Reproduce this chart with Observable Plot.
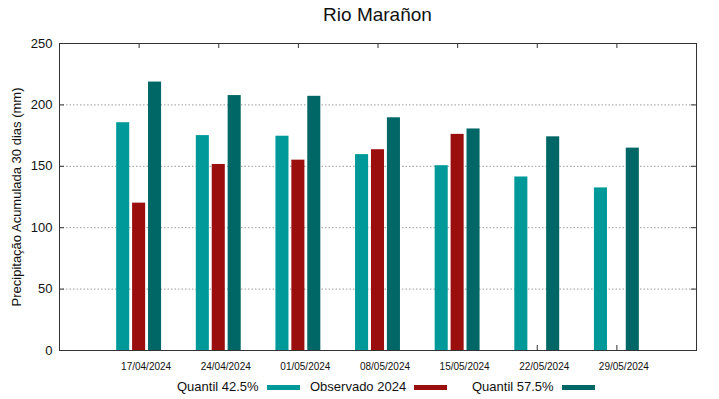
<!DOCTYPE html>
<html>
<head>
<meta charset="utf-8">
<script src="https://cdn.jsdelivr.net/npm/d3@7"></script>
<script src="https://cdn.jsdelivr.net/npm/@observablehq/plot@0.6"></script>
<style>
  body { margin: 0; background: #fff; font-family: "Liberation Sans", Arial, sans-serif; }
  #title { width: 719px; box-sizing: border-box; padding-left: 59px; padding-right: 23px; height: 30px; line-height: 30px; text-align: center; font-size: 19px; color: #111; }
  #legend { position: relative; width: 719px; height: 24px; font-size: 13px; color: #111; }
  .item { position: absolute; top: 0; height: 24px; line-height: 24px; white-space: nowrap; display: flex; align-items: center; }
  .sw { display: inline-block; width: 33px; height: 5px; margin-left: 8px; }
</style>
</head>
<body>
<div id="title">Rio Marañon</div>
<div id="chart"></div>
<div id="legend"></div>
<script>
// ---- data ----
const dates = ["17/04/2024", "24/04/2024", "01/05/2024", "08/05/2024", "15/05/2024", "22/05/2024", "29/05/2024"];
const seriesNames = ["Quantil 42.5%", "Observado 2024", "Quantil 57.5%"];
const q425 = [185.5, 175, 174.5, 159.5, 150.5, 141.3, 132.4];
const obs2024 = [120, 151.5, 155, 163.5, 176, null, null];
const q575 = [218.6, 207.6, 207, 189.5, 180.4, 174, 164.8];
const colors = ["#009999", "#9a0e0e", "#006666"];
const yTicks = [0, 50, 100, 150, 200, 250];
const gridTicks = [50, 100, 150, 200];
const yLabel = "Precipitação Acumulada 30 dias (mm)";

// ---- build rows ----
const series = [q425, obs2024, q575];
const rows = [];
dates.forEach((d, i) => {
  series.forEach((arr, s) => {
    if (arr[i] != null) rows.push({i, s, name: seriesNames[s], v: arr[i]});
  });
});
const idx = dates.map((d, i) => i);
const step = 0.2, half = 0.082;
const xMin = -1, xMax = 7, yMin = 0, yMax = 250;

const chart = Plot.plot({
  width: 719,
  height: 345,
  marginTop: 13,
  marginBottom: 25,
  marginLeft: 59,
  marginRight: 23,
  style: {fontFamily: "'Liberation Sans', Arial, sans-serif", fontSize: "13px", color: "#111"},
  x: {type: "linear", domain: [xMin, xMax], axis: null},
  y: {domain: [yMin, yMax], axis: null},
  color: {domain: seriesNames, range: colors},
  marks: [
    Plot.ruleY(gridTicks, {stroke: "#999", strokeDasharray: "1.5,2"}),
    // inward tick marks on all four sides
    Plot.ruleX(idx, {x: d => d, y1: yMin, y2: yMin, insetBottom: 5, stroke: "#333"}),
    Plot.ruleX(idx, {x: d => d, y1: yMax, y2: yMax, insetTop: 5, stroke: "#333"}),
    Plot.ruleY(yTicks, {y: d => d, x1: xMin, x2: xMin, insetRight: -5, stroke: "#333"}),
    Plot.ruleY(yTicks, {y: d => d, x1: xMax, x2: xMax, insetLeft: -5, stroke: "#333"}),
    Plot.rectY(rows, {
      x1: d => d.i + (d.s - 1) * step - half,
      x2: d => d.i + (d.s - 1) * step + half,
      y1: 0,
      y2: "v",
      fill: "name"
    }),
    Plot.frame({stroke: "#333"}),
    Plot.axisY(yTicks, {anchor: "left", tickSize: 0, tickPadding: 7, label: null, fontSize: 13}),
    Plot.axisX(idx, {anchor: "bottom", tickSize: 0, tickPadding: 12, dx: 7, label: null, fontSize: 10, tickFormat: i => dates[i]}),
    Plot.text([yLabel], {frameAnchor: "left", textAnchor: "middle", text: d => d, rotate: -90, dx: -43, fontSize: 13, fill: "#111"})
  ]
});
document.getElementById("chart").appendChild(chart);

// ---- legend ----
const legendLefts = [177, 310, 472];
const legend = document.getElementById("legend");
seriesNames.forEach((n, s) => {
  const item = document.createElement("div");
  item.className = "item";
  item.style.left = legendLefts[s] + "px";
  const t = document.createElement("span");
  t.textContent = n;
  const sw = document.createElement("span");
  sw.className = "sw";
  sw.style.background = colors[s];
  item.appendChild(t);
  item.appendChild(sw);
  legend.appendChild(item);
});
</script>
</body>
</html>
